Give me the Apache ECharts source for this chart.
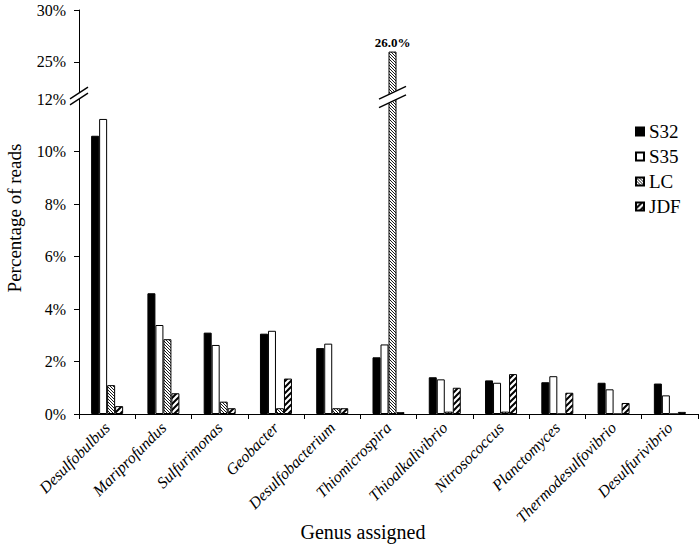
<!DOCTYPE html>
<html><head><meta charset="utf-8">
<script src="https://cdn.jsdelivr.net/npm/echarts@6/dist/echarts.min.js"></script>
<style>html,body{margin:0;padding:0;background:#fff}#c{width:700px;height:546px}</style>
</head><body><div id="c"></div>
<script>
const categories = ['Desulfobulbus','Mariprofundus','Sulfurimonas','Geobacter','Desulfobacterium','Thiomicrospira','Thioalkalivibrio','Nitrosococcus','Planctomyces','Thermodesulfovibrio','Desulfurivibrio'];
const seriesNames = ['S32','S35','LC','JDF'];
const s32 = [10.6, 4.6, 3.1, 3.06, 2.51, 2.16, 1.40, 1.28, 1.21, 1.19, 1.16];
const s35 = [11.24, 3.39, 2.63, 3.17, 2.68, 2.65, 1.32, 1.19, 1.44, 0.94, 0.71];
const lc  = [1.10, 2.85, 0.47, 0.22, 0.22, 26.0, 0.09, 0.09, 0, 0, 0];
const jdf = [0.30, 0.79, 0.22, 1.35, 0.22, 0.07, 1.00, 1.52, 0.81, 0.42, 0.08];
const lowerMax = 12;          // axis break: lower panel 0–12 %
const upperTicks = [25, 30];  // upper panel tick labels
const upperMin = 21.44, upperMax = 30;

const F = "'Liberation Serif', serif";
const values = [s32, s35, lc, jdf];

function hatch(size, lw, dir) {
  const c = document.createElement('canvas');
  c.width = c.height = size;
  const g = c.getContext('2d');
  g.fillStyle = '#fff'; g.fillRect(0, 0, size, size);
  g.strokeStyle = '#000'; g.lineWidth = lw; g.lineCap = 'square';
  g.beginPath();
  for (let k = -1; k <= 1; k++) {
    if (dir === 'back') { g.moveTo(k * size, 0); g.lineTo(k * size + size, size); }
    else { g.moveTo(k * size, size); g.lineTo(k * size + size, 0); }
  }
  g.stroke();
  return { image: c, repeat: 'repeat' };
}
const fills = ['#000', '#fff', hatch(3, 0.9, 'back'), hatch(6, 2, 'fwd')];

const chart = echarts.init(document.getElementById('c'), null, { renderer: 'svg' });

const series = [];
seriesNames.forEach((name, i) => {
  const base = {
    name, type: 'bar', barWidth: 8, barGap: '0%', clip: true,
    itemStyle: { color: fills[i], borderColor: '#000', borderWidth: 1 },
    emphasis: { disabled: true }, animation: false
  };
  series.push(Object.assign({}, base, { xAxisIndex: 1, yAxisIndex: 1, data: values[i] }));
  series.push(Object.assign({}, base, {
    xAxisIndex: 0, yAxisIndex: 0,
    data: values[i].map(v => v > lowerMax ? v : null),
    label: { show: true, position: 'top', distance: 3, formatter: p => p.value.toFixed(1) + '%',
      fontFamily: F, fontWeight: 'bold', fontSize: 13, color: '#000' }
  }));
});

const axisLineStyle = { show: true, lineStyle: { color: '#000', width: 1 } };
const yLabel = { fontFamily: F, fontSize: 16, color: '#000', margin: 13, formatter: '{value}%' };

chart.setOption({
  animation: false,
  backgroundColor: '#fff',
  textStyle: { fontFamily: F },
  grid: [
    { left: 79, right: 2, top: 10, height: 89 },
    { left: 79, right: 2, top: 99, bottom: 132 }
  ],
  legend: {
    orient: 'vertical', left: 630, top: 117, itemWidth: 8, itemHeight: 8, itemGap: 6,
    icon: 'rect', selectedMode: false, data: seriesNames,
    textStyle: { fontFamily: F, fontSize: 19, color: '#000' }
  },
  xAxis: [
    { gridIndex: 0, type: 'category', data: categories, show: false },
    { gridIndex: 1, type: 'category', data: categories,
      axisLine: axisLineStyle,
      axisTick: { show: true, length: 5, lineStyle: { color: '#000' } },
      axisLabel: { interval: 0, rotate: 45, fontStyle: 'italic', fontFamily: F, fontSize: 16, color: '#000', margin: 11 } }
  ],
  yAxis: [
    { gridIndex: 0, type: 'value', min: upperMin, max: upperMax,
      axisLine: axisLineStyle,
      axisTick: { show: true, length: 5, customValues: upperTicks, lineStyle: { color: '#000' } },
      axisLabel: Object.assign({ customValues: upperTicks }, yLabel),
      splitLine: { show: false } },
    { gridIndex: 1, type: 'value', min: 0, max: lowerMax, interval: 2,
      axisLine: axisLineStyle,
      axisTick: { show: true, length: 5, lineStyle: { color: '#000' } },
      axisLabel: yLabel,
      splitLine: { show: false } }
  ],
  series
});

// break marks
function breakMark(cx, cy, hw, slope, gap) {
  const y1a = cy - gap / 2 + hw * slope, y1b = cy - gap / 2 - hw * slope;
  const y2a = y1a + gap, y2b = y1b + gap;
  return [
    { type: 'polygon', z: 100, shape: { points: [[cx - hw, y1a], [cx + hw, y1b], [cx + hw, y2b], [cx - hw, y2a]] },
      style: { fill: '#fff', stroke: null } },
    { type: 'line', z: 101, shape: { x1: cx - hw, y1: y1a, x2: cx + hw, y2: y1b }, style: { stroke: '#000', lineWidth: 1.4 } },
    { type: 'line', z: 101, shape: { x1: cx - hw, y1: y2a, x2: cx + hw, y2: y2b }, style: { stroke: '#000', lineWidth: 1.4 } }
  ];
}
const c0 = chart.convertToPixel({ xAxisIndex: 1 }, categories[0]);
const c1 = chart.convertToPixel({ xAxisIndex: 1 }, categories[1]);
const band = c1 - c0;
const axisX = c0 - band / 2;
const yBreak = chart.convertToPixel({ yAxisIndex: 1 }, lowerMax);
const bigIdx = lc.findIndex(v => v > lowerMax);
const barX = chart.convertToPixel({ xAxisIndex: 1 }, categories[bigIdx]) + 4;

chart.setOption({
  graphic: [
    ...breakMark(axisX, yBreak - 3, 9, 0.65, 6),
    ...breakMark(barX, yBreak - 2, 13.5, 0.48, 8.5),
    { type: 'text', z: 50, x: 363, y: 532,
      style: { text: 'Genus assigned', fontFamily: F, fontSize: 20, fill: '#000', align: 'center', verticalAlign: 'middle' } },
    { type: 'text', z: 50, x: 14, y: 218, rotation: Math.PI / 2,
      style: { text: 'Percentage of reads', fontFamily: F, fontSize: 19, fill: '#000', align: 'center', verticalAlign: 'middle' } }
  ]
});
</script>
</body></html>
